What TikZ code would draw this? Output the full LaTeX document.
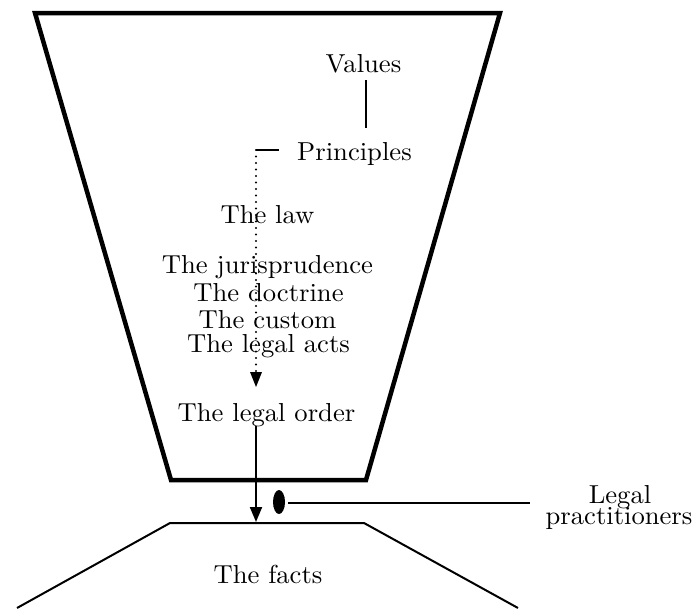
\documentclass[tikz,border=0pt]{standalone}
\usepackage{fontspec}
\setmainfont{lmroman10-regular.otf}[FakeStretch=1.024]
\usetikzlibrary{arrows.meta,shapes.geometric}
\begin{document}
\begin{tikzpicture}[x=1pt,y=-1pt,
  lbl/.style={font=\fontsize{26}{28}\selectfont, inner sep=0pt, anchor=base},
  thickline/.style={line width=4.5pt, line join=miter},
  thinline/.style={line width=2pt},
  dotline/.style={line width=2.4pt, line cap=round, dash pattern=on 0pt off 6.5pt},
  tri/.style={-{Triangle[width=12pt,length=15pt]}}]
\useasboundingbox (0,0) rectangle (696,608);
% funnel
\draw[thickline] (35,13) -- (500,13) -- (366,480) -- (171,480) -- cycle;
% facts plane
\draw[thinline] (17,608) -- (170,523) -- (364,523) -- (518,608);
% labels
\node[lbl] (values) at (363.5,72) {Values};
\node[lbl] (princ) at (354.5,160) {Principles};
\node[lbl] (law) at (267.5,223) {The law};
\node[lbl] (juris) at (267.5,273) {The jurisprudence};
\node[lbl] (doct) at (268.5,301) {The doctrine};
\node[lbl] (cust) at (267.5,328) {The custom};
\node[lbl] (acts) at (268.5,352) {The legal acts};
\node[lbl] (order) at (266.5,421) {The legal order};
\node[lbl] (facts) at (268,583) {The facts};
\node[lbl] (legal) at (620,503) {Legal};
\node[lbl] (pract) at (619,524) {practitioners};
% connectors
\coordinate (vtop) at (366,80);
\coordinate (vbot) at (366,128);
\draw[thinline] (vtop) -- (vbot);
\coordinate (pl) at (256,150);
\coordinate (pr) at (279,150);
\draw[thinline] (pl) -- (pr);
\coordinate (dotend) at (256,387);
\draw[dotline] (pl) -- (256,372);
\fill (250,372) -- (262,372) -- (dotend) -- cycle;
\coordinate (ordbot) at (256,426);
\coordinate (factstop) at (256,522);
\draw[line width=2pt, tri] (ordbot) -- (factstop);
% practitioner
\node[fill=black, ellipse, minimum width=12pt, minimum height=24pt, inner sep=0pt] (eye) at (279,502) {};
\coordinate (prline) at (530,503);
\draw[thinline] ([xshift=3pt,yshift=-1pt]eye.east) -- (prline);
\end{tikzpicture}
\end{document}
